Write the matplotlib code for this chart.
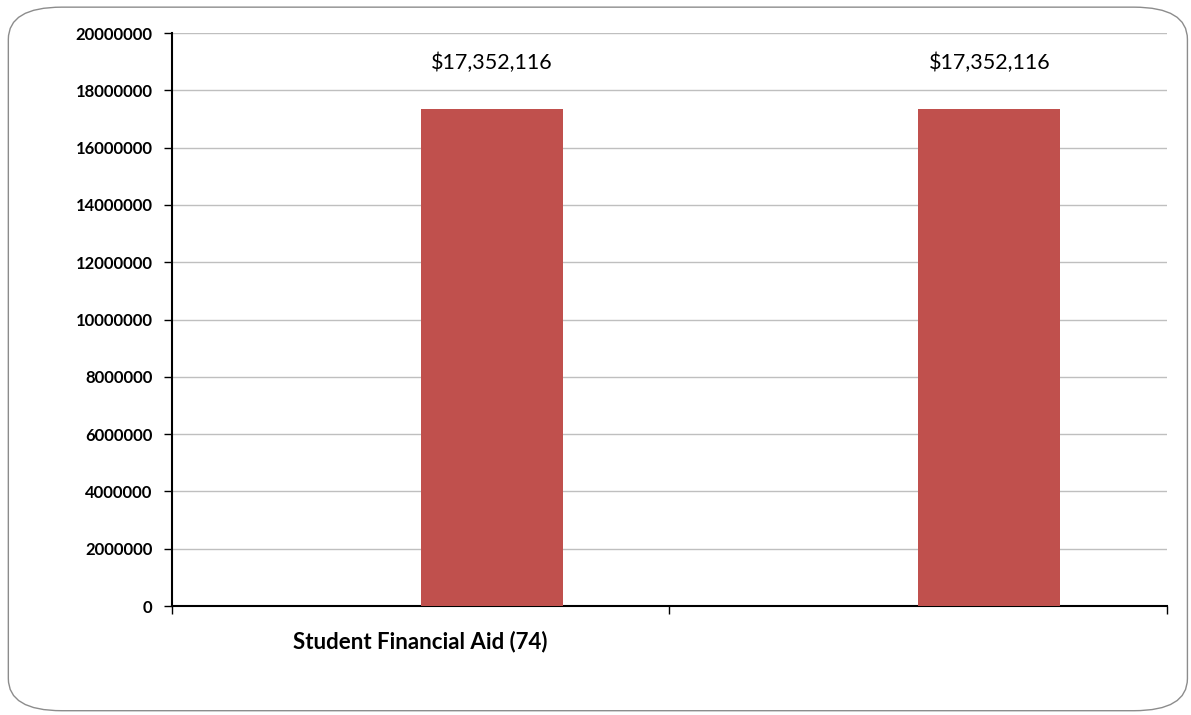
import matplotlib.pyplot as plt
from matplotlib.patches import FancyBboxPatch

categories = ["Student Financial Aid (74)", ""]
values = [17352116, 17352116]
yticks = [0, 2000000, 4000000, 6000000, 8000000, 10000000, 12000000,
          14000000, 16000000, 18000000, 20000000]

plt.rcParams['font.family'] = ['Lato', 'DejaVu Sans']

fig = plt.figure(figsize=(11.91, 7.15), dpi=100)
# rounded frame around the chart
fig.patches.append(FancyBboxPatch((0.007, 0.006), 0.99, 0.984,
                                  boxstyle="round,pad=0,rounding_size=0.045",
                                  transform=fig.transFigure, fill=False,
                                  edgecolor='#8c8c8c', linewidth=1.0))

ax = fig.add_axes([0.1444, 0.1524, 0.8354, 0.8014])
w = 0.286
xs = [i + w / 2 for i in range(len(values))]
bars = ax.bar(xs, values, width=w, color='#C0504D', zorder=3)
for b, v in zip(bars, values):
    ax.text(b.get_x() + b.get_width() / 2, v + 1250000, "${:,}".format(v),
            ha='center', va='bottom', fontsize=15.5, color='black')

ax.set_xlim(-0.5, len(values) - 0.5)
ax.set_ylim(0, 20000000)
ax.set_yticks(yticks)
ax.set_yticklabels([str(t) for t in yticks], fontweight='bold', fontsize=12)
ax.yaxis.grid(True, color='#BFBFBF', linewidth=1, zorder=0)

# category ticks sit at the borders, labels in the middle
ax.set_xticks([-0.5, 0.5, 1.5])
ax.set_xticklabels([])
ax.set_xticks(range(len(categories)), minor=True)
ax.set_xticklabels(categories, minor=True, fontweight='bold', fontsize=16)
ax.tick_params(axis='x', which='minor', length=0, pad=18)
ax.tick_params(axis='x', which='major', length=6, width=1, direction='out')
ax.tick_params(axis='y', length=6, width=1, direction='out', pad=8)

for s in ['top', 'right']:
    ax.spines[s].set_visible(False)
ax.spines['left'].set_linewidth(1.5)
ax.spines['bottom'].set_linewidth(1.5)

fig.savefig('out.png', dpi=100)
